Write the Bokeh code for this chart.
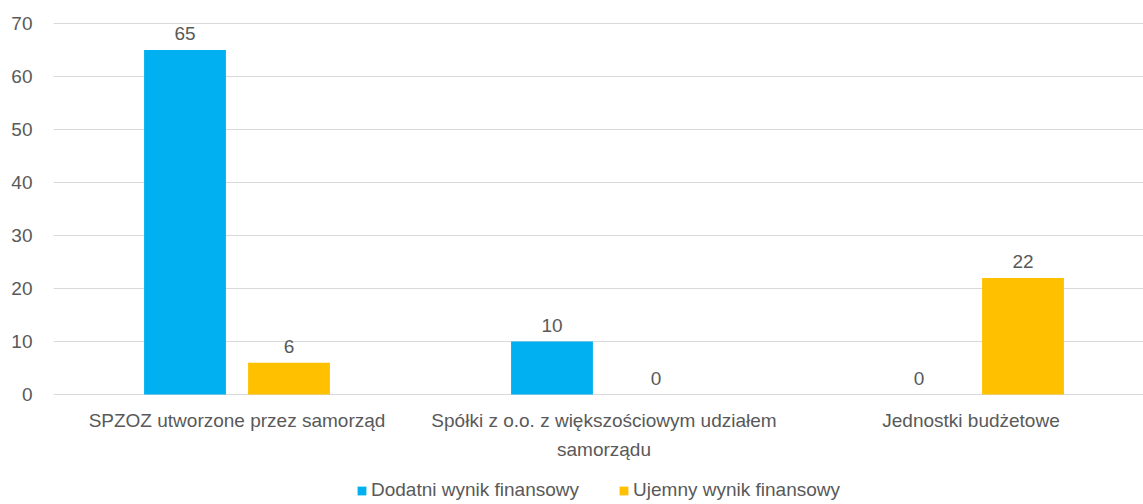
from bokeh.plotting import figure
from bokeh.models import ColumnDataSource, Range1d, FixedTicker, Legend, LegendItem
from bokeh.core.properties import value
from bokeh.embed import file_html
from bokeh.resources import INLINE

categories = ["SPZOZ utworzone przez samorząd",
              "Spółki z o.o. z większościowym udziałem\nsamorządu",
              "Jednostki budżetowe"]
series_names = ["Dodatni wynik finansowy", "Ujemny wynik finansowy"]
dodatni = [65, 10, 0]
ujemny = [6, 0, 22]
colors = ["#00B0F0", "#FFC000"]
y_ticks = [0, 10, 20, 30, 40, 50, 60, 70]

FONT = "Liberation Sans"
TXT = "#595959"
FS = "19px"

pos = [i + 0.5 for i in range(len(categories))]
off = 0.1417
bw = 0.223

p = figure(frame_width=1090, frame_height=486, output_backend="svg", toolbar_location=None,
           x_range=Range1d(0, 1090 / 367), y_range=Range1d(-20.75, 70.94),
           min_border_left=53, min_border_right=0, min_border_top=18, min_border_bottom=0)
p.outline_line_color = None
p.background_fill_color = "white"
p.border_fill_color = "white"

src1 = ColumnDataSource(dict(x=[v - off for v in pos], top=dodatni, lbl=[str(v) for v in dodatni]))
src2 = ColumnDataSource(dict(x=[v + off for v in pos], top=ujemny, lbl=[str(v) for v in ujemny]))
r1 = p.vbar(x="x", top="top", bottom=0, width=bw, source=src1, fill_color=colors[0], line_color=None)
r2 = p.vbar(x="x", top="top", bottom=0, width=bw, source=src2, fill_color=colors[1], line_color=None)
for s in (src1, src2):
    p.text(x="x", y="top", text="lbl", source=s, text_align="center", text_baseline="bottom",
           y_offset=-10, text_font=value(FONT), text_font_size=FS, text_color=TXT)

# category labels under the zero line
cat_src = ColumnDataSource(dict(x=pos, y=[0] * len(pos), t=categories))
p.text(x="x", y="y", text="t", source=cat_src, text_align="center", text_baseline="top",
       y_offset=15, text_font=value(FONT), text_font_size=FS, text_color=TXT,
       text_line_height=1.4)

p.xaxis.visible = False
p.xgrid.visible = False
p.ygrid.grid_line_color = "#D9D9D9"
p.ygrid.grid_line_width = 1
p.yaxis.ticker = FixedTicker(ticks=y_ticks)
ax = p.yaxis[0]
ax.axis_line_color = None
ax.major_tick_line_color = None
ax.minor_tick_line_color = None
ax.major_tick_out = 0
ax.major_tick_in = 0
ax.minor_tick_out = 0
ax.major_label_text_font = FONT
ax.major_label_text_font_size = FS
ax.major_label_text_color = TXT
ax.major_label_standoff = 21

legend = Legend(items=[LegendItem(label=series_names[0], renderers=[r1]),
                       LegendItem(label=series_names[1], renderers=[r2])],
                orientation="horizontal", location="bottom_center",
                label_text_font=FONT, label_text_font_size=FS, label_text_color=TXT,
                glyph_width=11, glyph_height=11, label_standoff=4, spacing=39,
                padding=0, margin=3, border_line_color=None, background_fill_alpha=0,
                label_height=20)
p.add_layout(legend, "center")

open("out.html", "w").write(file_html(p, INLINE))
